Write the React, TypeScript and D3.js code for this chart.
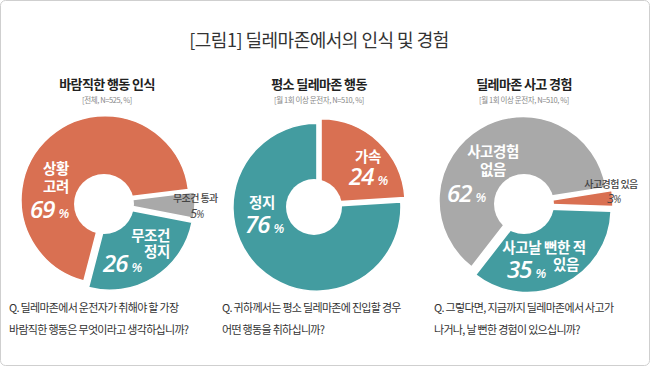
import React from 'react';
import * as d3 from 'd3';

// 각 차트 데이터 (시계방향 순서)
const chart1Cats = ['무조건 통과', '무조건 정지', '상황 고려'];
const chart1Values = [5, 26, 69];
const chart2Cats = ['가속', '정지'];
const chart2Values = [24, 76];
const chart3Cats = ['사고경험 있음', '사고날 뻔한 적 있음', '사고경험 없음'];
const chart3Values = [3, 35, 62];

const chartTitles = ['바람직한 행동 인식', '평소 딜레마존 행동', '딜레마존 사고 경험'];
const chartNotes = ['[전체, N=525, %]', '[월 1회 이상 운전자, N=510, %]', '[월 1회 이상 운전자, N=510, %]'];
const questions = [
  ['Q. 딜레마존에서 운전자가 취해야 할 가장', '바람직한 행동은 무엇이라고 생각하십니까?'],
  ['Q. 귀하께서는 평소 딜레마존에 진입할 경우', '어떤 행동을 취하십니까?'],
  ['Q. 그렇다면, 지금까지 딜레마존에서 사고가', '나거나, 날 뻔한 경험이 있으십니까?'],
];

const ORANGE = '#d97052';
const TEAL = '#439ca0';
const GRAY = '#a9a9a9';

const KR = '"Noto Sans CJK KR", "Noto Sans", sans-serif';
const NUM = '"Open Sans", Lato, sans-serif';

const W = 650;
const H = 366;

// 라벨 위치는 차트 중심 기준 (줄별 x, 첫 줄 y, 줄 간격)
type Label = {
  lines: string[];
  xs: number[];
  dy: number;
  lh: number;
  anchor: 'start' | 'middle' | 'end';
  numDx: number;
  numDy: number;
  inside: boolean;
};

const charts = [
  {
    cats: chart1Cats, values: chart1Values, colors: [GRAY, TEAL, ORANGE],
    cx: 107, cy: 202, start: 83, explode: [4, 5, 3], hole: [-3, 2, 30],
    labels: [
      { lines: ['무조건 통과'], xs: [66], dy: 0, lh: 0, anchor: 'start', numDx: 83, numDy: 16, inside: false },
      { lines: ['무조건', '정지'], xs: [63, 63], dy: 39, lh: 16, anchor: 'end', numDx: -4, numDy: 70, inside: true },
      { lines: ['상황', '고려'], xs: [-51, -51], dy: -28, lh: 18, anchor: 'middle', numDx: -77, numDy: 16, inside: true },
    ] as Label[],
  },
  {
    cats: chart2Cats, values: chart2Values, colors: [ORANGE, TEAL],
    cx: 319, cy: 205, start: 0, explode: [3, 3], hole: [-5, 2, 28],
    labels: [
      { lines: ['가속'], xs: [49], dy: -43, lh: 0, anchor: 'middle', numDx: 30, numDy: -20, inside: true },
      { lines: ['정지'], xs: [-57], dy: 3, lh: 0, anchor: 'middle', numDx: -74, numDy: 28, inside: true },
    ] as Label[],
  },
  {
    cats: chart3Cats, values: chart3Values, colors: [ORANGE, TEAL, GRAY],
    cx: 525, cy: 204, start: 81, explode: [4, 5, 4], hole: [-1, 0, 30],
    labels: [
      { lines: ['사고경험 있음'], xs: [86], dy: -16, lh: 0, anchor: 'middle', numDx: 82, numDy: -1, inside: false },
      { lines: ['사고날 뻔한 적', '있음'], xs: [19, 41], dy: 49, lh: 17, anchor: 'middle', numDx: -18, numDy: 74, inside: true },
      { lines: ['사고경험', '없음'], xs: [-32, -32], dy: -47, lh: 18, anchor: 'middle', numDx: -78, numDy: -2, inside: true },
    ] as Label[],
  },
];

const R = 84;

function Donut({ chart }: { chart: typeof charts[number] }) {
  const a0 = (chart.start * Math.PI) / 180;
  const pie = d3.pie<number>().sort(null).startAngle(a0).endAngle(a0 + 2 * Math.PI);
  const arcs = pie(chart.values);
  const arc = d3.arc<d3.PieArcDatum<number>>().innerRadius(0).outerRadius(R);
  return (
    <g transform={`translate(${chart.cx},${chart.cy})`}>
      {arcs.map((a, i) => {
        const mid = (a.startAngle + a.endAngle) / 2;
        const d = chart.explode[i];
        const ox = Math.sin(mid) * d;
        const oy = -Math.cos(mid) * d;
        return (
          <path key={i} d={arc(a) || ''} fill={chart.colors[i]} stroke="#fff" strokeWidth={1.5}
            transform={`translate(${ox},${oy})`} />
        );
      })}
      <circle cx={chart.hole[0]} cy={chart.hole[1]} r={chart.hole[2]} fill="#fff" />
      {chart.labels.map((l, i) => {
        const fill = l.inside ? '#fff' : '#444';
        return (
          <g key={'l' + i}>
            {l.lines.map((s, j) => (
              <text key={j} x={l.xs[j]} y={l.dy + j * l.lh} textAnchor={l.anchor} fill={fill}
                fontFamily={KR} fontWeight={l.inside ? 700 : 500} fontSize={l.inside ? 14.5 : 10}
                letterSpacing={l.inside ? -0.4 : -0.6}>
                {s}
              </text>
            ))}
            <text x={l.numDx} y={l.numDy} fill={fill} fontFamily={NUM} fontStyle="italic"
              fontWeight={l.inside ? 600 : 500} fontSize={l.inside ? 24 : 13} letterSpacing={-1}>
              {chart.values[i]}
              <tspan fontSize={l.inside ? 13 : 10} dx={l.inside ? 4 : 0}>%</tspan>
            </text>
          </g>
        );
      })}
    </g>
  );
}

export default function App() {
  const titleX = [107, 319, 524];
  const qX = [9, 222, 434];
  return (
    <svg width={W} height={H} style={{ position: 'fixed', left: 0, top: 0, background: '#fff' }}>
      <rect x={0.5} y={0.5} width={W - 1} height={H - 1} rx={5} fill="#fff" stroke="#cfcfcf" />
      <text x={319} y={47} textAnchor="middle" fontFamily={KR} fontSize={18} fill="#333" letterSpacing={-0.5}>
        [그림1] 딜레마존에서의 인식 및 경험
      </text>
      {charts.map((c, i) => (
        <g key={i}>
          <text x={titleX[i]} y={89} textAnchor="middle" fontFamily={KR} fontWeight={700} fontSize={13}
            fill="#222" letterSpacing={-0.6}>
            {chartTitles[i]}
          </text>
          <text x={titleX[i]} y={103} textAnchor="middle" fontFamily={KR} fontSize={7.5} fill="#888"
            letterSpacing={-0.4}>
            {chartNotes[i]}
          </text>
          <Donut chart={c} />
          {questions[i].map((q, j) => (
            <text key={j} x={qX[i]} y={312 + j * 22} fontFamily={KR} fontSize={11} fill="#333"
              letterSpacing={-0.7}>
              {q}
            </text>
          ))}
        </g>
      ))}
    </svg>
  );
}
